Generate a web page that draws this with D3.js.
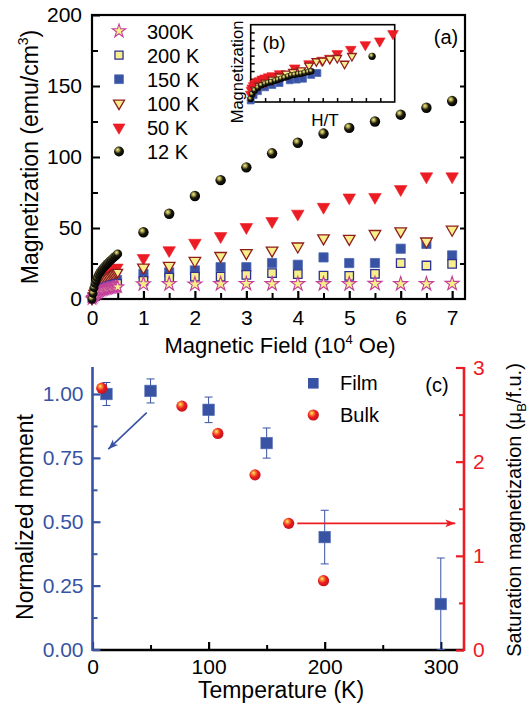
<!DOCTYPE html>
<html>
<head>
<meta charset="utf-8">
<script src="https://cdn.jsdelivr.net/npm/d3@7"></script>
<style>
  body { margin: 0; background: #fff; }
  text { font-family: Arial, "Liberation Sans", sans-serif; }
</style>
</head>
<body>
<div id="chart"></div>
<script>
// ---------- panel (a): M(H) data ----------
const lowField = [0, 0.02, 0.04, 0.06, 0.08, 0.1, 0.125, 0.15, 0.175, 0.2, 0.225, 0.25, 0.275, 0.3, 0.325, 0.35, 0.375, 0.4, 0.425, 0.45, 0.475, 0.5];
const low12K  = [0, 4, 8, 11, 13, 15, 17, 18.5, 19.8, 21, 22.1, 23.1, 24.1, 25, 25.9, 26.8, 27.6, 28.4, 29.3, 30.1, 30.9, 31.7];
const low50K  = [0, 2.5, 4.5, 6.3, 7.8, 9, 10.5, 11.8, 12.9, 13.9, 14.8, 15.6, 16.4, 17.1, 17.8, 18.5, 19.2, 19.9, 20.5, 21.2, 21.8, 22.4];
const low100K = [0, 2, 3.8, 5.3, 6.6, 7.6, 8.8, 9.9, 10.8, 11.6, 12.4, 13.1, 13.8, 14.4, 15, 15.6, 16.2, 16.8, 17.3, 17.9, 18.4, 18.9];
const low150K = [0, 1.6, 3, 4.2, 5.2, 6, 7, 7.8, 8.5, 9.1, 9.7, 10.2, 10.7, 11.1, 11.5, 11.9, 12.3, 12.6, 12.9, 13.2, 13.5, 13.8];
const low200K = [0, 1.3, 2.5, 3.5, 4.3, 5, 5.8, 6.5, 7.1, 7.6, 8.1, 8.5, 8.9, 9.2, 9.5, 9.8, 10.1, 10.3, 10.5, 10.7, 10.9, 11.1];
const low300K = [0, 1, 2, 2.8, 3.5, 4.1, 4.8, 5.3, 5.8, 6.2, 6.5, 6.8, 7.1, 7.3, 7.5, 7.7, 7.9, 8.1, 8.2, 8.3, 8.4, 8.5];

const field = [1, 1.5, 2, 2.5, 3, 3.5, 4, 4.5, 5, 5.5, 6, 6.5, 7];
const m12K  = [47, 60, 72.5, 83.7, 92.7, 102.6, 110, 116.5, 120.5, 125, 129.8, 134.7, 139.4];
const m50K  = [28.8, 34.3, 39.5, 44.2, 50.6, 54.8, 60, 64.8, 71.4, 71.8, 77.3, 86.3, 86.3];
const m100K = [22.2, 23.4, 26.9, 30.4, 32.4, 34.2, 37.1, 42.8, 42.5, 45.9, 47.7, 40.6, 48.9];
const m150K = [17.7, 18.7, 20.1, 22.4, 22.4, 25.3, 24.1, 29.3, 25.3, 25.3, 35.4, 38.8, 30.7];
const m200K = [12.7, 15.1, 15.8, 15.8, 17, 18.2, 17.5, 16.5, 16.3, 17.7, 25.3, 23.6, 24.8];
const m300K = [10.5, 10.6, 10.4, 10.6, 10.7, 10.6, 10.6, 10.6, 10.6, 10.8, 10.6, 10.6, 10.8];

const legendLabels = ["300K", "200 K", "150 K", "100 K", "50 K", "12 K"];
const fieldTicks = [0, 1, 2, 3, 4, 5, 6, 7];
const fieldMinor = [0.5, 1.5, 2.5, 3.5, 4.5, 5.5, 6.5];
const magTicks = [0, 50, 100, 150, 200];
const magMinor = [25, 75, 125, 175];

// ---------- inset (b): scaled M vs H/T (arbitrary units) ----------
const inRedX = [0, 0.05, 0.1, 0.2, 0.3, 0.45, 0.6, 0.8, 1.0, 1.25, 1.5, 2.01, 3.06, 4.05, 4.95, 5.5, 6.01, 6.95, 7.96, 8.96, 9.88];
const inRedY = [1.0, 1.5, 1.8, 2.1, 2.35, 2.55, 2.75, 2.95, 3.1, 3.25, 3.4, 3.66, 4.4, 4.95, 5.39, 5.65, 6.25, 6.8, 7.41, 7.89, 8.84];
const inYelX = [0.3, 0.6, 1.0, 1.5, 2.0, 2.47, 2.94, 3.51, 4.05, 4.56, 5.0, 5.49, 6.01, 6.52, 7.03];
const inYelY = [1.6, 2.1, 2.5, 2.9, 3.3, 3.66, 3.88, 4.1, 4.7, 5.27, 5.35, 5.6, 5.69, 4.95, 5.95];
const inBluX = [0, 0.2, 0.5, 1.0, 1.5, 2.0, 2.71, 3.2, 3.63, 4.2, 4.63];
const inBluY = [0.2, 0.9, 1.4, 1.9, 2.2, 2.45, 2.81, 2.9, 3.01, 3.5, 3.75];
const inBlkX = [0, 0.1, 0.28, 0.5, 0.74, 1.0, 1.2, 1.43, 1.7, 1.9, 2.12, 2.35, 2.6, 2.82, 3.05, 3.3, 3.51, 3.75, 4.0, 4.21, 8.43];
const inBlkY = [0.4, 1.0, 1.5, 1.85, 2.16, 2.35, 2.48, 2.59, 2.75, 2.88, 3.02, 3.15, 3.3, 3.45, 3.52, 3.6, 3.66, 3.78, 3.88, 3.97, 5.91];
const insetTicks = [1, 2, 3, 4, 5, 6, 7, 8, 9];

// ---------- panel (c): moment vs temperature ----------
const filmT   = [12, 50, 100, 150, 200, 300];
const filmM   = [1.00, 1.012, 0.938, 0.808, 0.44, 0.178];
const filmErr = [0.045, 0.047, 0.05, 0.059, 0.105, 0.18];
const bulkT   = [8, 77, 108, 140, 169, 199];
const bulkMs  = [2.78, 2.59, 2.30, 1.86, 1.345, 0.736];
const tempTicks = [0, 100, 200, 300];
const tempMinor = [50, 150, 250];
const normTicks = [0, 0.25, 0.5, 0.75, 1.0];
const normMinor = [0.125, 0.375, 0.625, 0.875];
const satTicks = [0, 1, 2, 3];
const satMinor = [0.5, 1.5, 2.5];

const blue = "#3853a4", red = "#ec1c24", yellow = "#f8ef8a";

const svg = d3.select("#chart").append("svg")
    .attr("width", 529)
    .attr("height", 707);

const defs = svg.append("defs");
function ball(id, stops) {
  const g = defs.append("radialGradient").attr("id", id)
      .attr("cx", "40%").attr("cy", "38%").attr("r", "62%")
      .attr("fx", "36%").attr("fy", "32%");
  stops.forEach(([o, c]) => g.append("stop").attr("offset", o).attr("stop-color", c));
}
ball("ballK", [["0%", "#f2ec98"], ["25%", "#a8a148"], ["55%", "#1c1b10"], ["100%", "#000"]]);
ball("ballR", [["0%", "#fff37a"], ["28%", "#f8832c"], ["58%", "#ec1c24"], ["100%", "#c4141a"]]);

function arrowHead(id, color) {
  defs.append("marker").attr("id", id)
      .attr("viewBox", "-10 -5 12 10").attr("refX", 0).attr("refY", 0)
      .attr("markerWidth", 12).attr("markerHeight", 10)
      .attr("markerUnits", "userSpaceOnUse").attr("orient", "auto")
    .append("path").attr("d", "M0,0 L-10,-3.8 L-7.5,0 L-10,3.8 Z").attr("fill", color);
}
arrowHead("arrB", blue);
arrowHead("arrR", red);

function styleAxis(g, color, width, size) {
  g.select(".domain").remove();
  g.selectAll("line").attr("stroke", color).attr("stroke-width", width);
  g.selectAll("text").attr("fill", color).attr("font-size", size);
}

// ======================= panel (a) =======================
const xA = d3.scaleLinear().domain([0, 7.25]).range([92, 465]);
const yA = d3.scaleLinear().domain([0, 200]).range([299, 15]);

const gA = svg.append("g");

gA.append("g").attr("transform", `translate(0,${yA(0)})`)
  .call(d3.axisBottom(xA).tickValues(fieldTicks).tickSize(-8).tickPadding(11).tickFormat(d3.format("d")))
  .call(g => styleAxis(g, "#000", 2.2, 21));
gA.append("g").attr("transform", `translate(0,${yA(0)})`)
  .call(d3.axisBottom(xA).tickValues(fieldMinor).tickSize(-6).tickFormat(""))
  .call(g => styleAxis(g, "#000", 2, 21));
gA.append("g").attr("transform", `translate(${xA(0)},0)`)
  .call(d3.axisLeft(yA).tickValues(magTicks).tickSize(-8).tickPadding(10))
  .call(g => styleAxis(g, "#000", 2, 21));
gA.append("g").attr("transform", `translate(${xA(0)},0)`)
  .call(d3.axisLeft(yA).tickValues(magMinor).tickSize(-6).tickFormat(""))
  .call(g => styleAxis(g, "#000", 2, 21));
gA.append("g").attr("transform", `translate(${xA.range()[1]},0)`)
  .call(d3.axisRight(yA).tickValues(magMinor.concat([50, 100, 150])).tickSize(-5).tickFormat(""))
  .call(g => styleAxis(g, "#000", 2, 21));

gA.append("rect")
    .attr("x", xA(0)).attr("y", yA(200))
    .attr("width", xA.range()[1] - xA(0)).attr("height", yA(0) - yA(200))
    .attr("fill", "none").attr("stroke", "#000").attr("stroke-width", 2.2);

// marker styles for each temperature
const sym = d3.symbol();
const styles = {
  "300K": {kind: "star", size: 62, fill: yellow, stroke: "#c2409c", sw: 1.1},
  "200 K": {kind: "square", size: 72, fill: yellow, stroke: "#2e3192", sw: 1.3},
  "150 K": {kind: "square", size: 85, fill: blue, stroke: "#4d68b4", sw: 0.8},
  "100 K": {kind: "tri", size: 58, fill: yellow, stroke: "#8e1e1e", sw: 1.3},
  "50 K": {kind: "tri", size: 68, fill: red, stroke: red, sw: 0.6},
  "12 K": {kind: "ball", r: 5.2}
};

function drawMark(g, st, x, y, scale = 1) {
  if (st.kind === "ball") {
    return g.append("circle").attr("cx", x).attr("cy", y).attr("r", st.r * scale)
        .attr("fill", st.grad || "url(#ballK)");
  }
  const type = st.kind === "star" ? d3.symbolStar : st.kind === "square" ? d3.symbolSquare : d3.symbolTriangle;
  const rot = st.kind === "tri" ? 180 : 0;
  return g.append("path")
      .attr("d", sym.type(type).size(st.size * scale * scale)())
      .attr("transform", `translate(${x},${y}) rotate(${rot})`)
      .attr("fill", st.fill).attr("stroke", st.stroke).attr("stroke-width", st.sw);
}

const seriesA = [
  {label: "50 K", low: low50K, high: m50K},
  {label: "150 K", low: low150K, high: m150K},
  {label: "100 K", low: low100K, high: m100K},
  {label: "200 K", low: low200K, high: m200K},
  {label: "300K", low: low300K, high: m300K},
  {label: "12 K", low: low12K, high: m12K}
];

const dataG = gA.append("g");
seriesA.forEach(s => {
  const st = styles[s.label];
  s.low.forEach((v, i) => drawMark(dataG, st, xA(lowField[i]), yA(v), 0.85));
  s.high.forEach((v, i) => drawMark(dataG, st, xA(field[i]), yA(v), 1));
});

// legend (a)
const legA = gA.append("g");
legendLabels.forEach((lab, i) => {
  const y = 31 + i * 24.1;
  drawMark(legA, styles[lab], 119, y, 0.95);
  legA.append("text").attr("x", 147).attr("y", y + 7.5).attr("font-size", 20).text(lab);
});

gA.append("text").attr("x", 446).attr("y", 44).attr("text-anchor", "middle")
    .attr("font-size", 20).text("(a)");

// axis titles (a)
const xtA = gA.append("text").attr("x", 280).attr("y", 353).attr("text-anchor", "middle").attr("font-size", 22);
xtA.append("tspan").text("Magnetic Field (10");
xtA.append("tspan").attr("font-size", 13).attr("dy", -9).text("4");
xtA.append("tspan").attr("dy", 9).text(" Oe)");

const ytA = gA.append("text").attr("transform", "translate(38,157) rotate(-90)")
    .attr("text-anchor", "middle").attr("font-size", 23);
ytA.append("tspan").text("Magnetization (emu/cm");
ytA.append("tspan").attr("font-size", 14).attr("dy", -10).text("3");
ytA.append("tspan").attr("dy", 10).text(")");

// ======================= inset (b) =======================
const xB = d3.scaleLinear().domain([0, 10]).range([250.7, 394.7]);
const yB = d3.scaleLinear().domain([0, 10]).range([102, 24.7]);
const gB = svg.append("g");
gB.append("rect").attr("x", xB(0)).attr("y", yB(10))
    .attr("width", xB(10) - xB(0)).attr("height", yB(0) - yB(10))
    .attr("fill", "#fff").attr("stroke", "#000").attr("stroke-width", 1.6);
gB.append("g").attr("transform", `translate(0,${yB(0)})`)
  .call(d3.axisBottom(xB).tickValues(insetTicks).tickSize(-4).tickFormat(""))
  .call(g => styleAxis(g, "#000", 1.5, 10));
gB.append("g").attr("transform", `translate(${xB(0)},0)`)
  .call(d3.axisLeft(yB).tickValues(insetTicks).tickSize(-4).tickFormat(""))
  .call(g => styleAxis(g, "#000", 1.5, 10));

const inG = gB.append("g");
inRedX.forEach((x, i) => drawMark(inG, styles["50 K"], xB(x), yB(inRedY[i]), 0.85));
inBluX.forEach((x, i) => drawMark(inG, styles["150 K"], xB(x), yB(inBluY[i]), 0.75));
inYelX.forEach((x, i) => drawMark(inG, styles["100 K"], xB(x), yB(inYelY[i]), 0.75));
inBlkX.forEach((x, i) => drawMark(inG, {kind: "ball", r: 3.2}, xB(x), yB(inBlkY[i]), i === inBlkX.length - 1 ? 1.15 : 1));

gB.append("text").attr("x", 274).attr("y", 49).attr("text-anchor", "middle")
    .attr("font-size", 19).text("(b)");
gB.append("text").attr("x", 325).attr("y", 126).attr("text-anchor", "middle")
    .attr("font-size", 17).text("H/T");
gB.append("text").attr("transform", "translate(243,72) rotate(-90)")
    .attr("text-anchor", "middle").attr("font-size", 16.5).text("Magnetization");

// ======================= panel (c) =======================
const xC = d3.scaleLinear().domain([0, 320]).range([92.5, 464]);
const yL = d3.scaleLinear().domain([0, 1]).range([649.5, 394]);
const yR = d3.scaleLinear().domain([0, 3]).range([650, 367.5]);
const topC = 367;

const gC = svg.append("g");

gC.append("g").attr("transform", `translate(0,650)`)
  .call(d3.axisBottom(xC).tickValues(tempTicks).tickSize(-8).tickPadding(9.5))
  .call(g => styleAxis(g, "#000", 2.2, 21));
gC.append("g").attr("transform", `translate(0,650)`)
  .call(d3.axisBottom(xC).tickValues(tempMinor).tickSize(-5).tickFormat(""))
  .call(g => styleAxis(g, "#000", 2, 21));
gC.append("line").attr("x1", xC(0)).attr("x2", xC(320)).attr("y1", 650).attr("y2", 650)
    .attr("stroke", "#000").attr("stroke-width", 2.4);

gC.append("g").attr("transform", `translate(${xC(0)},0)`)
  .call(d3.axisLeft(yL).tickValues(normTicks).tickSize(-8).tickPadding(9).tickFormat(d3.format(".2f")))
  .call(g => styleAxis(g, blue, 2.2, 21));
gC.append("g").attr("transform", `translate(${xC(0)},0)`)
  .call(d3.axisLeft(yL).tickValues(normMinor).tickSize(-5).tickFormat(""))
  .call(g => styleAxis(g, blue, 2, 21));
gC.append("line").attr("x1", xC(0)).attr("x2", xC(0)).attr("y1", topC).attr("y2", 651)
    .attr("stroke", blue).attr("stroke-width", 2.6);

gC.append("g").attr("transform", `translate(${xC(320)},0)`)
  .call(d3.axisRight(yR).tickValues(satTicks).tickSize(-8).tickPadding(9).tickFormat(d3.format("d")))
  .call(g => styleAxis(g, red, 2.2, 21));
gC.append("g").attr("transform", `translate(${xC(320)},0)`)
  .call(d3.axisRight(yR).tickValues(satMinor).tickSize(-5).tickFormat(""))
  .call(g => styleAxis(g, red, 2, 21));
gC.append("line").attr("x1", xC(320)).attr("x2", xC(320)).attr("y1", topC).attr("y2", 651)
    .attr("stroke", red).attr("stroke-width", 2.6);

// film error bars + squares
const film = filmT.map((t, i) => ({t, m: filmM[i], e: filmErr[i]}));
const eb = gC.append("g").attr("stroke", blue).attr("stroke-width", 1);
film.forEach(d => {
  const x = xC(d.t), y1 = yL(Math.max(d.m - d.e, 0)), y2 = yL(d.m + d.e);
  eb.append("line").attr("x1", x).attr("x2", x).attr("y1", y1).attr("y2", y2);
  eb.append("line").attr("x1", x - 4).attr("x2", x + 4).attr("y1", y1).attr("y2", y1);
  eb.append("line").attr("x1", x - 4).attr("x2", x + 4).attr("y1", y2).attr("y2", y2);
});
gC.append("g").selectAll("rect").data(film).join("rect")
    .attr("x", d => xC(d.t) - 5.8).attr("y", d => yL(d.m) - 5.8)
    .attr("width", 11.6).attr("height", 11.6)
    .attr("fill", blue).attr("stroke", "#5a72b8").attr("stroke-width", 0.6);

// bulk spheres
gC.append("g").selectAll("circle").data(bulkT.map((t, i) => ({t, v: bulkMs[i]}))).join("circle")
    .attr("cx", d => xC(d.t)).attr("cy", d => yR(d.v)).attr("r", 5.6)
    .attr("fill", "url(#ballR)");

// arrows
gC.append("line")
    .attr("x1", xC(46.7)).attr("y1", yL(0.927)).attr("x2", xC(13.6)).attr("y2", yL(0.784))
    .attr("stroke", blue).attr("stroke-width", 1.6).attr("marker-end", "url(#arrB)");
gC.append("line")
    .attr("x1", xC(176.4)).attr("y1", yR(1.345)).attr("x2", xC(312.5)).attr("y2", yR(1.345))
    .attr("stroke", red).attr("stroke-width", 1.6).attr("marker-end", "url(#arrR)");

// legend (c)
gC.append("rect").attr("x", 308).attr("y", 378).attr("width", 10.6).attr("height", 10.6).attr("fill", blue);
gC.append("text").attr("x", 340).attr("y", 390).attr("font-size", 20).text("Film");
gC.append("circle").attr("cx", 313.3).attr("cy", 415).attr("r", 5.6).attr("fill", "url(#ballR)");
gC.append("text").attr("x", 340).attr("y", 422).attr("font-size", 20).text("Bulk");
gC.append("text").attr("x", 437).attr("y", 392).attr("text-anchor", "middle").attr("font-size", 20).text("(c)");

// titles (c)
gC.append("text").attr("x", 281).attr("y", 698).attr("text-anchor", "middle")
    .attr("font-size", 23).text("Temperature (K)");
gC.append("text").attr("transform", "translate(33,517) rotate(-90)")
    .attr("text-anchor", "middle").attr("font-size", 23).text("Normalized moment");
const ytR = gC.append("text").attr("transform", "translate(521,510) rotate(-90)")
    .attr("text-anchor", "middle").attr("font-size", 20);
ytR.append("tspan").text("Saturation magnetization (\u03bc");
ytR.append("tspan").attr("font-size", 13).attr("dy", 5).text("B");
ytR.append("tspan").attr("dy", -5).text("/f.u.)");
</script>
</body>
</html>
